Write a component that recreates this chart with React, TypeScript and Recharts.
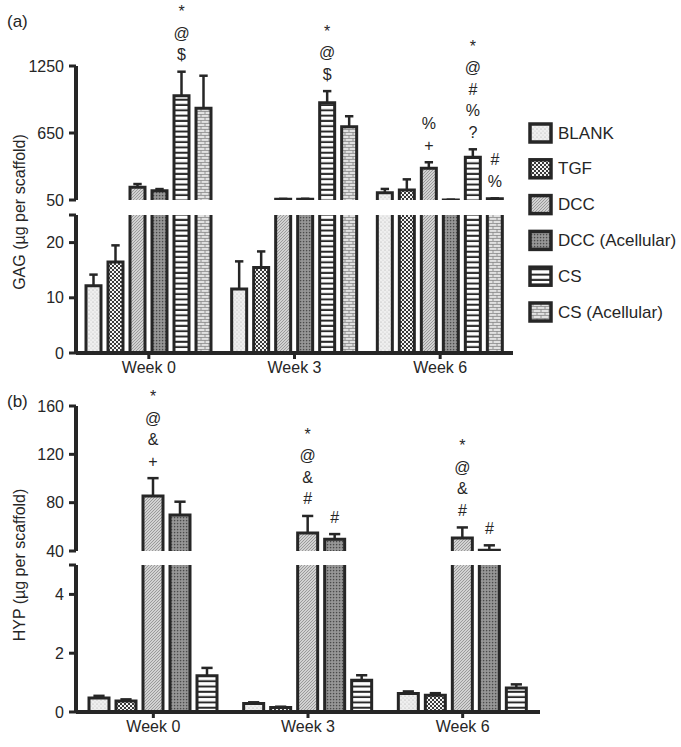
import React from 'react';
import { BarChart, Bar, XAxis, YAxis, LabelList } from 'recharts';

const INK = '#262626';
const FONT = '"Liberation Sans", Arial, Helvetica, sans-serif';

const weeks = ['Week 0', 'Week 3', 'Week 6'];
const groups = ['BLANK', 'TGF', 'DCC', 'DCC (Acellular)', 'CS', 'CS (Acellular)'];
const patternIds = ['pBlank', 'pTgf', 'pDcc', 'pDccAc', 'pCs', 'pCsAc'];

// (a) GAG, µg per scaffold
const gagBlank = [12.2, 11.6, 115];
const gagTgf = [16.5, 15.5, 140];
const gagDcc = [164, 56, 334];
const gagDccAc = [133, 57, 51];
const gagCs = [984, 922, 432];
const gagCsAc = [871, 707, 62];

const gagBlankErr = [2.0, 5.0, 34];
const gagTgfErr = [3.0, 2.9, 95];
const gagDccErr = [29, 4, 54];
const gagDccAcErr = [15, 4, 2];
const gagCsErr = [215, 103, 72];
const gagCsAcErr = [292, 93, 3];

// significance marks, one symbol per line (top to bottom)
const gagDccMarks = ['', '', '%+'];
const gagCsMarks = ['*@$', '*@$', '*@#%?'];
const gagCsAcMarks = ['', '', '#%'];
const noMarks = ['', '', ''];

// (b) HYP, µg per scaffold
const hypBlank = [0.48, 0.29, 0.63];
const hypTgf = [0.37, 0.15, 0.57];
const hypDcc = [85.6, 55, 50.8];
const hypDccAc = [69.7, 49.8, 40.6];
const hypCs = [1.23, 1.08, 0.82];

const hypBlankErr = [0.07, 0.04, 0.07];
const hypTgfErr = [0.06, 0.03, 0.07];
const hypDccErr = [14.7, 14, 8.7];
const hypDccAcErr = [11.1, 4.2, 4.1];
const hypCsErr = [0.27, 0.17, 0.12];

const hypDccMarks = ['*@&+', '*@&#', '*@&#'];
const hypDccAcMarks = ['', '#', '#'];

const gagValues = [gagBlank, gagTgf, gagDcc, gagDccAc, gagCs, gagCsAc];
const gagErrors = [gagBlankErr, gagTgfErr, gagDccErr, gagDccAcErr, gagCsErr, gagCsAcErr];
const gagMarks = [noMarks, noMarks, gagDccMarks, noMarks, gagCsMarks, gagCsAcMarks];

const hypValues = [hypBlank, hypTgf, hypDcc, hypDccAc, hypCs];
const hypErrors = [hypBlankErr, hypTgfErr, hypDccErr, hypDccAcErr, hypCsErr];
const hypMarks = [noMarks, noMarks, hypDccMarks, hypDccAcMarks, noMarks];

// rows for one segment of a broken axis: bar shown if it reaches lo,
// error bar + marks only in the segment that holds the bar top
const buildRows = (values: number[][], errors: number[][], marks: string[][], lo: number, hi: number) =>
  weeks.map((week, w) => {
    const row: any = { week };
    values.forEach((vals, i) => {
      const v = vals[w];
      const topHere = v >= lo && v <= hi;
      row[`v${i}`] = v >= lo ? v : null;
      row[`e${i}`] = topHere ? errors[i][w] : null;
      row[`m${i}`] = topHere ? marks[i][w] : null;
    });
    return row;
  });

// bar body: sides always, top edge only when the bar really ends inside the segment
const makeBarBox = (key: string) => (p: any) => {
  const { x, y, width, height, fill, background, payload } = p;
  if (payload && payload[key] == null) return null;
  if (x == null || y == null || !width || height == null) return null;
  let top = Math.min(y, y + height);
  let bottom = Math.max(y, y + height);
  let open = false;
  if (background && background.height) {
    const pTop = background.y;
    const pBottom = background.y + background.height;
    if (top <= pTop + 0.5) {
      top = pTop;
      open = true;
    }
    bottom = Math.min(bottom, pBottom);
  }
  if (bottom - top < 0) return null;
  const d = open
    ? `M${x},${bottom} V${top} M${x + width},${top} V${bottom}`
    : `M${x},${bottom} V${top} H${x + width} V${bottom}`;
  return (
    <g>
      <rect x={x} y={top} width={width} height={bottom - top} fill={fill} />
      <path d={d} fill="none" stroke={INK} strokeWidth={3} strokeLinecap="square" />
    </g>
  );
};

const makeErrTee = (key: string) => (p: any) => {
  const { x, y, width, height, payload } = p;
  if (payload && payload[key] == null) return null;
  if (x == null || y == null || !height || height <= 0) return null;
  const cx = x + width / 2;
  const cap = width * 0.28;
  return (
    <g stroke={INK} strokeWidth={2.5}>
      <line x1={cx} x2={cx} y1={y + height} y2={y} />
      <line x1={cx - cap} x2={cx + cap} y1={y} y2={y} />
    </g>
  );
};

const Marks = (p: any) => {
  const vb = p.viewBox ?? p;
  const x = vb.x ?? p.x;
  const y = vb.y ?? p.y;
  const width = vb.width ?? p.width;
  if (!p.value || x == null) return null;
  const chars = String(p.value).split('');
  const cx = x + width / 2;
  return (
    <g>
      {chars.map((c, k) => (
        <text
          key={k}
          x={cx}
          y={y - 17 - (chars.length - 1 - k) * 21.5}
          textAnchor="middle"
          dominantBaseline="central"
          fontSize={16}
          fontFamily={FONT}
          fill={INK}
        >
          {c}
        </text>
      ))}
    </g>
  );
};

const Patterns = () => (
  <svg width={0} height={0} style={{ position: 'absolute' }}>
    <defs>
      <pattern id="pBlank" width={4} height={4} patternUnits="userSpaceOnUse">
        <rect width={4} height={4} fill="#efefef" />
        <circle cx={1} cy={1} r={0.6} fill="#a8a8a8" />
        <circle cx={3} cy={3} r={0.6} fill="#c4c4c4" />
      </pattern>
      <pattern id="pTgf" width={4} height={4} patternUnits="userSpaceOnUse">
        <rect width={4} height={4} fill="#f4f4f4" />
        <rect x={0} y={0} width={2} height={2} fill="#3a3a3a" />
        <rect x={2} y={2} width={2} height={2} fill="#3a3a3a" />
      </pattern>
      <pattern id="pDcc" width={3} height={3} patternUnits="userSpaceOnUse">
        <rect width={3} height={3} fill="#d2d2d2" />
        <path d="M0,3 L3,0 M-1,1 L1,-1 M2,4 L4,2" stroke="#8c8c8c" strokeWidth={0.8} />
      </pattern>
      <pattern id="pDccAc" width={3} height={3} patternUnits="userSpaceOnUse">
        <rect width={3} height={3} fill="#8e8e8e" />
        <rect x={0} y={0} width={1.2} height={1.2} fill="#4a4a4a" />
        <rect x={1.5} y={1.5} width={1} height={1} fill="#b0b0b0" />
      </pattern>
      <pattern id="pCs" width={6} height={5.3} patternUnits="userSpaceOnUse">
        <rect width={6} height={5.3} fill="#ffffff" />
        <rect x={0} y={3.3} width={6} height={2} fill="#2a2a2a" />
      </pattern>
      <pattern id="pCsAc" width={8} height={6} patternUnits="userSpaceOnUse">
        <rect width={8} height={6} fill="#e2e2e2" />
        <path d="M0,0.4 H8 M0,3.4 H8 M1,0 V3 M5,3 V6" stroke="#8a8a8a" strokeWidth={0.9} />
      </pattern>
    </defs>
  </svg>
);

interface SegmentProps {
  rows: any[];
  count: number;
  domain: [number, number];
  ticks: number[];
  hiddenTick?: number;
  top: number;
  width: number;
  height: number;
  marginTop: number;
  marginBottom: number;
  showX: boolean;
  barSize: number;
  barGap: number;
}

const Segment = ({ rows, count, domain, ticks, hiddenTick, top, width, height, marginTop, marginBottom, showX, barSize, barGap }: SegmentProps) => {
  const series = Array.from({ length: count }, (_, i) => i);
  return (
    <div style={{ position: 'absolute', left: 0, top }}>
      <BarChart
        width={width}
        height={height}
        data={rows}
        margin={{ top: marginTop, right: 7, left: 0, bottom: marginBottom }}
        barSize={barSize}
        barGap={barGap}
      >
        <XAxis
          dataKey="week"
          hide={!showX}
          height={30}
          axisLine={{ stroke: INK, strokeWidth: 4 }}
          tickLine={{ stroke: INK, strokeWidth: 3 }}
          tickSize={6}
          tickMargin={3}
          tick={{ fontSize: 16, fill: INK, fontFamily: FONT }}
        />
        <YAxis
          type="number"
          domain={domain}
          ticks={ticks}
          interval={0}
          allowDataOverflow
          width={76}
          axisLine={{ stroke: INK, strokeWidth: 4 }}
          tickLine={{ stroke: INK, strokeWidth: 3 }}
          tickSize={7}
          tickMargin={5}
          tickFormatter={(v: number) => (v === hiddenTick ? '' : String(v))}
          tick={{ fontSize: 16, fill: INK, fontFamily: FONT }}
        />
        {series.flatMap((i) => [
          <Bar
            key={`v${i}`}
            dataKey={`v${i}`}
            stackId={`s${i}`}
            barSize={barSize}
            fill={`url(#${patternIds[i]})`}
            shape={makeBarBox(`v${i}`)}
            isAnimationActive={false}
          />,
          <Bar
            key={`e${i}`}
            dataKey={`e${i}`}
            stackId={`s${i}`}
            barSize={barSize}
            fill="none"
            shape={makeErrTee(`e${i}`)}
            isAnimationActive={false}
          >
            <LabelList dataKey={`m${i}`} content={Marks} />
          </Bar>,
        ])}
      </BarChart>
    </div>
  );
};

const Overlay = () => (
  <svg width={681} height={747} style={{ position: 'absolute', left: 0, top: 0, pointerEvents: 'none' }} fontFamily={FONT}>
    <text x={7} y={21} fontSize={17} fill={INK} dominantBaseline="central">(a)</text>
    <text x={7} y={401} fontSize={17} fill={INK} dominantBaseline="central">(b)</text>
    <text x={19} y={212} fontSize={16} fill={INK} textAnchor="middle" dominantBaseline="central" transform="rotate(-90 19 212)">
      GAG (µg per scaffold)
    </text>
    <text x={19} y={565} fontSize={16} fill={INK} textAnchor="middle" dominantBaseline="central" transform="rotate(-90 19 565)">
      HYP (µg per scaffold)
    </text>
    {groups.map((g, i) => {
      const cy = 133 + i * 35.8;
      return (
        <g key={g}>
          <rect x={530} y={cy - 9} width={21} height={18} fill={`url(#${patternIds[i]})`} stroke={INK} strokeWidth={3.5} />
          <text x={558} y={cy} fontSize={17} fill={INK} dominantBaseline="central">{g}</text>
        </g>
      );
    })}
  </svg>
);

const gagUpper = buildRows(gagValues, gagErrors, gagMarks, 50, Infinity);
const gagLower = buildRows(gagValues, gagErrors, gagMarks, 0, 25);
const hypUpper = buildRows(hypValues, hypErrors, hypMarks, 40, Infinity);
const hypLower = buildRows(hypValues, hypErrors, hypMarks, 0, 5);

export default function App() {
  return (
    <div style={{ position: 'absolute', left: 0, top: 0, width: 681, height: 747, background: '#fff' }}>
      <Patterns />
      <Segment rows={gagUpper} count={6} domain={[50, 1250]} ticks={[50, 650, 1250]} top={0} width={520} height={210} marginTop={66} marginBottom={10} showX={false} barSize={15} barGap={7} />
      <Segment rows={gagLower} count={6} domain={[0, 25]} ticks={[0, 10, 20, 25]} hiddenTick={25} top={205} width={520} height={178} marginTop={10} marginBottom={0} showX barSize={15} barGap={7} />
      <Segment rows={hypUpper} count={5} domain={[40, 160]} ticks={[40, 80, 120, 160]} top={370} width={547} height={191} marginTop={36} marginBottom={10} showX={false} barSize={20} barGap={7} />
      <Segment rows={hypLower} count={5} domain={[0, 5]} ticks={[0, 2, 4, 5]} hiddenTick={5} top={555} width={547} height={187} marginTop={10} marginBottom={0} showX barSize={20} barGap={7} />
      <Overlay />
    </div>
  );
}
